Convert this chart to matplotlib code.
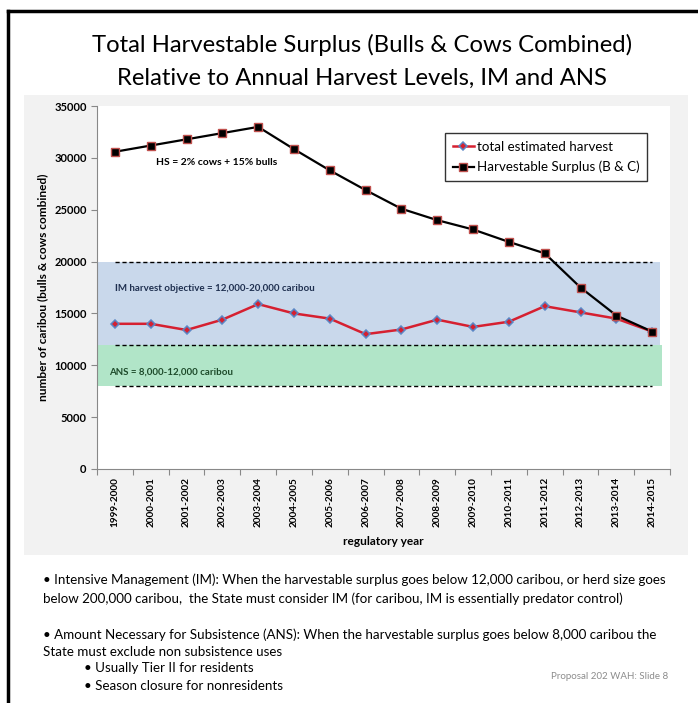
import matplotlib.pyplot as plt
from matplotlib.patches import Rectangle
from matplotlib.lines import Line2D

plt.rcParams['font.family'] = ['Lato', 'DejaVu Sans']

years = ['1999-2000', '2000-2001', '2001-2002', '2002-2003', '2003-2004', '2004-2005',
         '2005-2006', '2006-2007', '2007-2008', '2008-2009', '2009-2010', '2010-2011',
         '2011-2012', '2012-2013', '2013-2014', '2014-2015']
harvest = [14000, 14000, 13400, 14400, 15900, 15000, 14500, 13000,
           13450, 14400, 13700, 14200, 15700, 15100, 14500, 13250]
surplus = [30600, 31200, 31800, 32400, 33000, 30850, 28800, 26900,
           25100, 24000, 23100, 21900, 20800, 17500, 14800, 13250]
im_band = [12000, 20000]
ans_band = [8000, 12000]
yticks = [0, 5000, 10000, 15000, 20000, 25000, 30000, 35000]

fig = plt.figure(figsize=(6.98, 7.03), dpi=100)

# slide border (top and left) and grey chart panel
fig.add_artist(Line2D([0.011, 1.0], [0.984, 0.984], color='black', lw=2.5))
fig.add_artist(Line2D([0.012, 0.012], [0.0, 0.984], color='black', lw=2.5))
fig.add_artist(Rectangle((0.034, 0.211), 0.952, 0.654, facecolor='#f2f2f2',
                         edgecolor='none', zorder=0))

fig.text(0.519, 0.936, 'Total Harvestable Surplus (Bulls & Cows Combined)',
         ha='center', va='center', fontsize=17.2)
fig.text(0.519, 0.889, 'Relative to Annual Harvest Levels, IM and ANS',
         ha='center', va='center', fontsize=17.2)

ax = fig.add_axes([0.139, 0.333, 0.821, 0.516])
x = list(range(len(years)))

ax.fill_between([-0.5, 15.22], im_band[0], im_band[1], color='#c9d8eb', lw=0, zorder=1)
ax.fill_between([-0.5, 15.27], ans_band[0], ans_band[1], color='#b1e5c8', lw=0, zorder=1)
for v in [ans_band[0], ans_band[1], im_band[1]]:
    ax.plot([0, 15], [v, v], color='black', ls='--', lw=1, dashes=(3, 2), zorder=2)

ax.plot(x, harvest, color='#d62030', lw=1.8, marker='D', ms=4.3,
        mfc='#d62030', mec='#5b86c5', mew=1.1, zorder=3, label='total estimated harvest')
ax.plot(x, surplus, color='black', lw=1.6, marker='s', ms=6,
        mfc='black', mec='#c0504d', mew=1, zorder=4, label='Harvestable Surplus (B & C)')

ax.text(1.15, 29600, 'HS = 2% cows + 15% bulls', fontsize=7.5, fontweight='bold', va='center')
ax.text(0.0, 17400, 'IM harvest objective = 12,000-20,000 caribou', fontsize=7,
        fontweight='bold', va='center', color='#1f3050')
ax.text(-0.17, 9300, 'ANS = 8,000-12,000 caribou', fontsize=7,
        fontweight='bold', va='center', color='#1d4a2a')

ax.set_xlim(-0.5, 15.5)
ax.set_ylim(0, 35000)
ax.set_yticks(yticks)
ax.set_yticklabels([str(v) for v in yticks], fontsize=8, fontweight='bold')
ax.set_xticks([i - 0.5 for i in range(len(years) + 1)])
ax.set_xticklabels([])
ax.set_xticks(x, minor=True)
ax.set_xticklabels(years, minor=True, rotation=90, fontsize=7.2, fontweight='bold')
ax.tick_params(axis='x', which='minor', length=0, pad=6)
ax.tick_params(axis='both', which='major', length=4, color='#888888')
for side in ['top', 'right']:
    ax.spines[side].set_visible(False)
for side in ['left', 'bottom']:
    ax.spines[side].set_color('#888888')
ax.set_ylabel('number of caribou (bulls & cows combined)', fontsize=8.6, fontweight='bold')
ax.set_xlabel('regulatory year', fontsize=8.6, fontweight='bold', labelpad=6)

leg = ax.legend(loc='upper right', bbox_to_anchor=(0.972, 0.945), fontsize=9.6,
                frameon=True, fancybox=False, edgecolor='black', handlelength=1.6,
                handletextpad=0.2, borderpad=0.6, labelspacing=0.6)
leg.get_frame().set_linewidth(1)

body = [
    (0.062, 0.175, '• Intensive Management (IM): When the harvestable surplus goes below 12,000 caribou, or herd size goes'),
    (0.062, 0.149, 'below 200,000 caribou,  the State must consider IM (for caribou, IM is essentially predator control)'),
    (0.062, 0.097, '• Amount Necessary for Subsistence (ANS): When the harvestable surplus goes below 8,000 caribou the'),
    (0.062, 0.073, 'State must exclude non subsistence uses'),
    (0.12, 0.050, '• Usually Tier II for residents'),
    (0.12, 0.024, '• Season closure for nonresidents'),
]
for bx, by, s in body:
    fig.text(bx, by, s, fontsize=9.6, va='center', ha='left')
fig.text(0.957, 0.037, 'Proposal 202 WAH: Slide 8', fontsize=7, color='#8c8c8c',
         ha='right', va='center')

fig.savefig('out.png', dpi=100)
